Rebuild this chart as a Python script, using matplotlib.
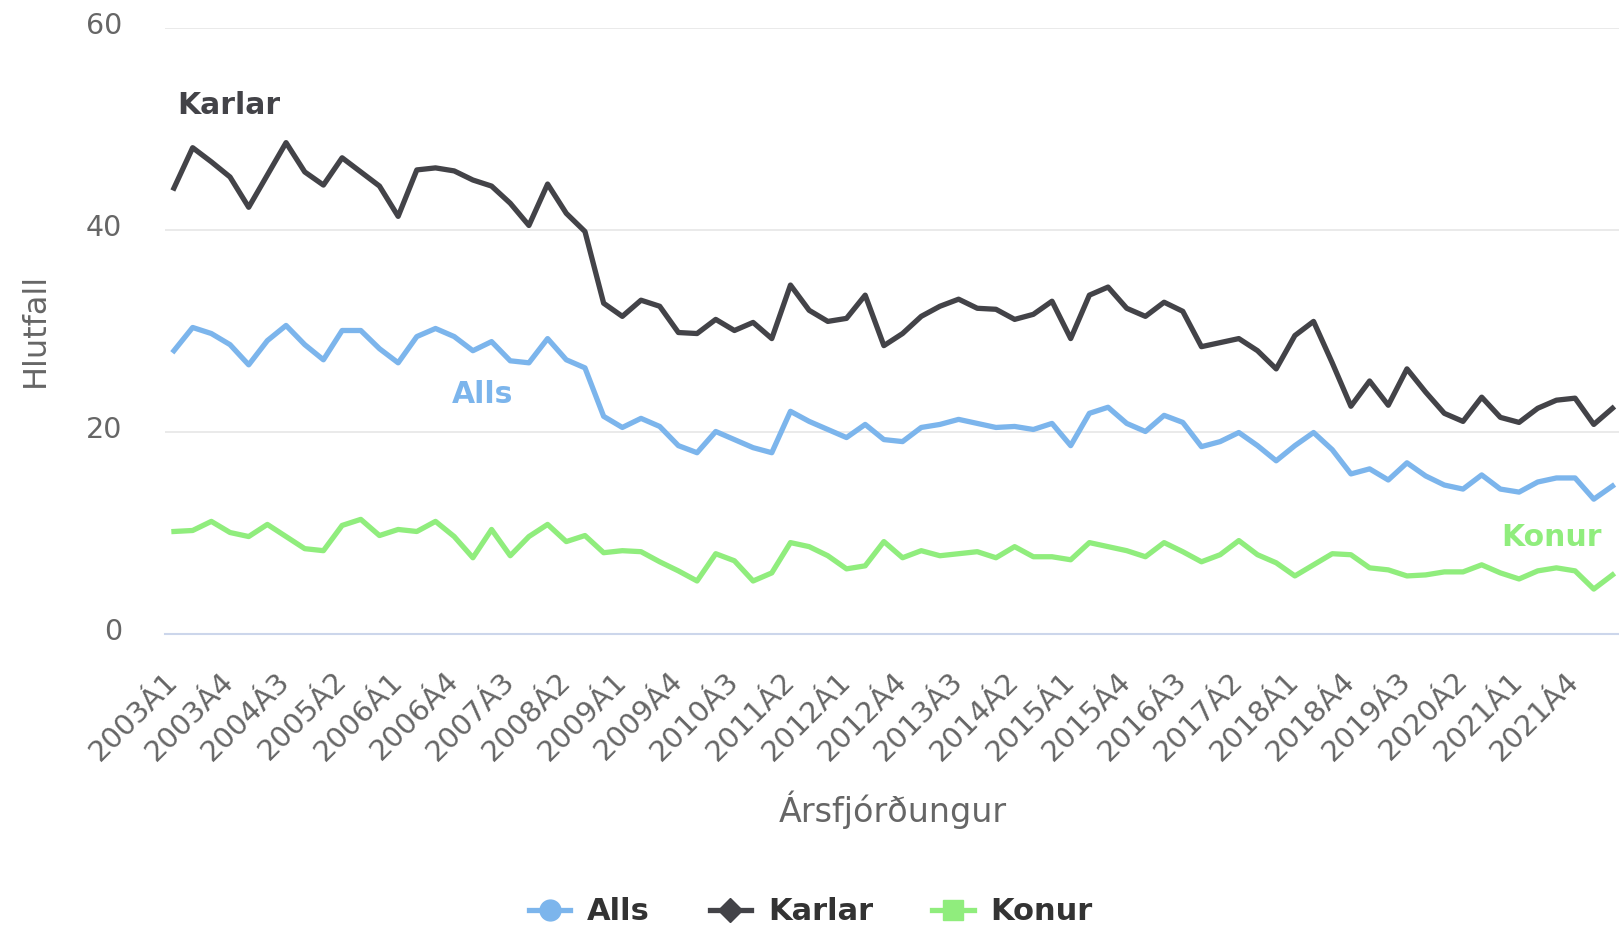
import matplotlib
matplotlib.use("Agg")
import matplotlib.pyplot as plt
import matplotlib.transforms as mtransforms
from matplotlib.lines import Line2D

# quarterly categories 2003Á1 .. 2022Á2
years = list(range(2003, 2023))
quarters = [f"{y}Á{q}" for y in years for q in range(1, 5)][:78]

tick_labels = ["2003Á1", "2003Á4", "2004Á3", "2005Á2", "2006Á1", "2006Á4",
               "2007Á3", "2008Á2", "2009Á1", "2009Á4", "2010Á3", "2011Á2",
               "2012Á1", "2012Á4", "2013Á3", "2014Á2", "2015Á1", "2015Á4",
               "2016Á3", "2017Á2", "2018Á1", "2018Á4", "2019Á3", "2020Á2",
               "2021Á1", "2021Á4"]

karlar = [44.1, 48.1, 46.7, 45.2, 42.2, 45.4, 48.6, 45.7, 44.4, 47.1,
          45.7, 44.3, 41.3, 45.9, 46.1, 45.8, 44.9, 44.3, 42.6, 40.4,
          44.5, 41.6, 39.8, 32.7, 31.4, 33.0, 32.4, 29.8, 29.7, 31.1,
          30.0, 30.8, 29.2, 34.5, 32.0, 30.9, 31.2, 33.5, 28.5, 29.7,
          31.4, 32.4, 33.1, 32.2, 32.1, 31.1, 31.6, 32.9, 29.2, 33.5,
          34.3, 32.2, 31.4, 32.8, 31.9, 28.4, 28.8, 29.2, 28.0, 26.2,
          29.5, 30.9, 26.8, 22.5, 25.0, 22.6, 26.2, 23.9, 21.8, 21.0,
          23.4, 21.4, 20.9, 22.3, 23.1, 23.3, 20.7, 22.3]

alls = [28.0, 30.3, 29.7, 28.6, 26.6, 29.0, 30.5, 28.6, 27.1, 30.0,
        30.0, 28.2, 26.8, 29.4, 30.2, 29.4, 28.0, 28.9, 27.0, 26.8,
        29.2, 27.1, 26.3, 21.5, 20.4, 21.3, 20.5, 18.6, 17.9, 20.0,
        19.2, 18.4, 17.9, 22.0, 21.0, 20.2, 19.4, 20.7, 19.2, 19.0,
        20.4, 20.7, 21.2, 20.8, 20.4, 20.5, 20.2, 20.8, 18.6, 21.8,
        22.4, 20.8, 20.0, 21.6, 20.9, 18.5, 19.0, 19.9, 18.6, 17.1,
        18.6, 19.9, 18.2, 15.8, 16.3, 15.2, 16.9, 15.6, 14.7, 14.3,
        15.7, 14.3, 14.0, 15.0, 15.4, 15.4, 13.3, 14.6]

konur = [10.1, 10.2, 11.1, 10.0, 9.6, 10.8, 9.6, 8.4, 8.2, 10.7,
         11.3, 9.7, 10.3, 10.1, 11.1, 9.6, 7.5, 10.3, 7.7, 9.6,
         10.8, 9.1, 9.7, 8.0, 8.2, 8.1, 7.1, 6.2, 5.2, 7.9,
         7.2, 5.2, 6.0, 9.0, 8.6, 7.7, 6.4, 6.7, 9.1, 7.5,
         8.2, 7.7, 7.9, 8.1, 7.5, 8.6, 7.6, 7.6, 7.3, 9.0,
         8.6, 8.2, 7.6, 9.0, 8.1, 7.1, 7.8, 9.2, 7.8, 7.0,
         5.7, 6.8, 7.9, 7.8, 6.5, 6.3, 5.7, 5.8, 6.1, 6.1,
         6.8, 6.0, 5.4, 6.2, 6.5, 6.2, 4.4, 5.8]

c_alls = "#7cb5ec"
c_karlar = "#434348"
c_konur = "#90ed7d"
grey = "#666666"

W, H = 1619, 926
fig = plt.figure(figsize=(W / 100, H / 100), dpi=100)
ax = fig.add_axes([165 / W, 1 - 633.5 / H, (W - 165) / W, (633.5 - 27.5) / H])

x = list(range(len(quarters)))
lw = 3.8
ax.plot(x, alls, color=c_alls, lw=lw, solid_joinstyle="round", zorder=3)
ax.plot(x, karlar, color=c_karlar, lw=lw, solid_joinstyle="round", zorder=3)
ax.plot(x, konur, color=c_konur, lw=lw, solid_joinstyle="round", zorder=3)

ax.set_xlim(-0.48, 77.35)
ax.set_ylim(0, 60)
ax.set_yticks([0, 20, 40, 60])
ax.grid(axis="y", color="#e6e6e6", lw=1.2)
ax.set_axisbelow(True)
for s in ["top", "right", "left"]:
    ax.spines[s].set_visible(False)
ax.spines["bottom"].set_color("#ccd6eb")
ax.spines["bottom"].set_linewidth(1.5)

ax.set_xticks([quarters.index(t) for t in tick_labels])
ax.set_xticklabels(tick_labels)
ax.tick_params(axis="x", length=0, pad=31, labelsize=21, labelcolor=grey)
ax.tick_params(axis="y", length=0, pad=31, labelsize=20.5, labelcolor=grey)
for lab in ax.get_xticklabels():
    lab.set_rotation(45)
    lab.set_ha("right")
    lab.set_va("center")
    lab.set_rotation_mode("anchor")
off = mtransforms.ScaledTranslation(0, 4 / 100, fig.dpi_scale_trans)
for lab in ax.get_yticklabels():
    lab.set_transform(lab.get_transform() + off)

fig.text(35 / W, 1 - 330 / H, "Hlutfall", rotation=90, ha="center", va="center",
         fontsize=23, color=grey)
fig.text(893 / W, 1 - 810 / H, "Ársfjórðungur", ha="center", va="center",
         fontsize=24, color=grey)

# series labels
ax.text(0.16, 52.3, "Karlar", color=c_karlar, fontsize=21.5, fontweight="bold",
        ha="left", va="center")
ax.text(14.9, 23.7, "Alls", color=c_alls, fontsize=21.5, fontweight="bold",
        ha="left", va="center")
ax.text(76.4, 9.55, "Konur", color=c_konur, fontsize=21.5, fontweight="bold",
        ha="right", va="center")

handles = [
    Line2D([], [], color=c_alls, lw=lw, marker="o", markersize=15),
    Line2D([], [], color=c_karlar, lw=lw, marker="D", markersize=12),
    Line2D([], [], color=c_konur, lw=lw, marker="s", markersize=14),
]
leg = fig.legend(handles, ["Alls", "Karlar", "Konur"], loc="center",
                 bbox_to_anchor=(811 / W, 1 - 912 / H), ncol=3, frameon=False,
                 prop={"size": 22, "weight": "bold"}, handlelength=1.35,
                 handletextpad=0.55, columnspacing=1.95)
for t in leg.get_texts():
    t.set_color("#333333")

fig.savefig("out.png", dpi=100)
